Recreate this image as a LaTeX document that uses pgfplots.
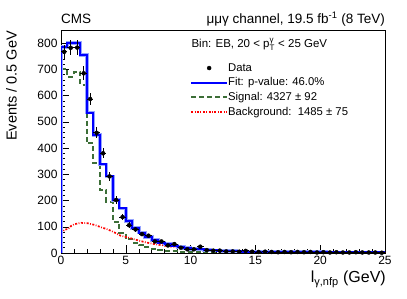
\documentclass[border=0pt]{standalone}
\usepackage{pgfplots}
\pgfplotsset{compat=1.18}
\usepackage{pgfplotstable}
\usepackage{fontspec}
\setmainfont{Liberation Sans}
\definecolor{fitblue}{RGB}{0,0,255}
\definecolor{bandblue}{RGB}{150,165,255}
\definecolor{siggreen}{RGB}{60,110,55}
\definecolor{bkgred}{RGB}{255,0,0}

\pgfplotstableread{
x y ex ey
0.25 767 0.25 27.7
0.75 782 0.25 28
1.25 783 0.25 28
1.75 685 0.25 26.2
2.25 587 0.25 24.2
2.75 458 0.25 21.4
3.25 380 0.25 19.5
3.75 292 0.25 17.1
4.25 202 0.25 14.2
4.75 137 0.25 11.7
5.25 106 0.25 10.3
5.75 90 0.25 9.5
6.25 72 0.25 8.5
6.75 66 0.25 8.1
7.25 44 0.25 6.6
7.75 44 0.25 6.6
8.25 29 0.25 5.4
8.75 34 0.25 5.8
9.25 20 0.25 4.5
9.75 14 0.25 3.7
10.25 14 0.25 3.7
10.75 24 0.25 4.9
11.25 11 0.25 3.3
11.75 9 0.25 3
12.25 9 0.25 3
12.75 6 0.25 2.4
13.25 6 0.25 2.4
13.75 5 0.25 2.2
14.25 8 0.25 2.8
14.75 5 0.25 2.2
15.25 4 0.25 2
15.75 5 0.25 2.2
16.25 4 0.25 2
16.75 3 0.25 1.7
17.25 4 0.25 2
17.75 3 0.25 1.7
18.25 4 0.25 2
18.75 3 0.25 1.7
19.25 4 0.25 2
19.75 2 0.25 1.4
20.25 3 0.25 1.7
20.75 2 0.25 1.4
21.25 3 0.25 1.7
21.75 2 0.25 1.4
22.25 2 0.25 1.4
22.75 3 0.25 1.7
23.25 2 0.25 1.4
23.75 2 0.25 1.4
24.25 2 0.25 1.4
24.75 1 0.25 1
}\datatable

\pgfplotstableread{
x y
0 0
0 786
0.5 800
1 800
1.5 755
2 535
2.5 450
3 338
3.5 292
4 203
4.5 170
5 122
5.5 96
6 78
6.5 62
7 49
7.5 40
8 34
8.5 28
9 23
9.5 19
10 16
10.5 14
11 12
11.5 10
12 9
12.5 8
13 7
13.5 6
14 5.5
14.5 5
15 4.5
15.5 4.2
16 4
16.5 3.8
17 3.6
17.5 3.4
18 3.2
18.5 3
19 2.9
19.5 2.8
20 2.7
20.5 2.6
21 2.5
21.5 2.4
22 2.3
22.5 2.2
23 2.1
23.5 2
24 2
24.5 1.9
25 1.9
}\fittable

\pgfplotstableread{
x y
0 0
0 703
0.5 672
1 690
1.5 640
2 418
2.5 342
3 240
3.5 196
4 119
4.5 78
5 52
5.5 40
6 30
6.5 22
7 15
7.5 12
8 9
8.5 7
9 5
9.5 4.5
10 4
10.5 3.5
11 3
11.5 2.5
12 2.2
12.5 2
13 1.8
13.5 1.6
14 1.4
14.5 1.2
15 1
25 1
}\sigtable

\pgfplotstableread{
x y
0 75
0.3 89
0.55 92
0.8 104
1.05 110
1.55 115
2.1 113
2.6 107
3.1 98
3.6 90
4.1 79
4.6 66
5.1 60
5.6 53
6.1 46
6.6 40
7.1 35
7.6 31
8.1 27
8.6 24
9.1 21
9.6 18
10.1 16
10.6 14
11.1 12
11.6 11
12.1 10
12.6 9
13.1 8
13.6 7
14.1 6
14.6 5.5
15.5 5
16.5 4.5
17.5 4
18.5 3.5
19.5 3.2
20.5 3
21.5 2.7
22.5 2.5
23.5 2.3
25 2
}\bkgtable

\begin{document}
\begin{tikzpicture}
\useasboundingbox (0,0) rectangle (407pt,299pt);
\begin{axis}[
  at={(61pt,46pt)}, anchor=south west,
  scale only axis, width=324pt, height=223pt,
  xmin=0, xmax=25, ymin=0, ymax=850,
  xtick={0,5,...,25}, ytick={0,100,...,800},
  minor x tick num=4, minor y tick num=4,
  tick align=inside, tick pos=left,
  major tick length=8pt, minor tick length=4pt,
  tick style={black, line width=0.5pt},
  tick label style={font=\fontsize{12}{14}\selectfont},
  /pgf/number format/assume math mode=true,
  axis line style={line width=0.6pt},
  legend image code/.code={\draw[mark repeat=2,mark phase=2,#1] plot coordinates {(0pt,0pt) (18pt,0pt) (36pt,0pt)};},
  legend cell align=left,
  legend style={at={(rel axis cs:0.398,0.855)}, anchor=north west, draw=none, fill=none,
    inner sep=0pt, row sep=3.7pt,
    font=\fontsize{11.3}{13}\selectfont,
    nodes={inner sep=0pt, text height=8.5pt, text depth=2.5pt},
    /tikz/every even column/.append style={column sep=7pt}},
]
\addlegendimage{only marks, mark=*, mark size=2pt, black}
\addlegendentry{Data}
\addlegendimage{fitblue, line width=2pt}
\addlegendentry{Fit: p-value: 46.0\%}
\addlegendimage{siggreen, line width=2pt, dash pattern=on 5pt off 3pt}
\addlegendentry{Signal: 4327 ± 92}
\addlegendimage{bkgred, line width=1.7pt, dash pattern=on 2pt off 1.5pt on 0.8pt off 1.5pt}
\addlegendentry{Background:\ \ 1485 ± 75}

\addplot[forget plot, siggreen, line width=2pt, dash pattern=on 5pt off 3pt, const plot] table {\sigtable};
\addplot[forget plot, bkgred, line width=1.7pt, dash pattern=on 2pt off 1.5pt on 0.8pt off 1.5pt, sharp plot] table {\bkgtable};
\addplot[forget plot, bandblue, line width=3.6pt, const plot] table {\fittable};
\addplot[forget plot, fitblue, line width=2pt, const plot] table {\fittable};
\addplot[forget plot, black, only marks, mark=*, mark size=2pt,
  error bars/.cd, x dir=both, x explicit, y dir=both, y explicit,
  error mark=none, error bar style={line width=0.8pt, black}]
  table[x=x, y=y, x error=ex, y error=ey] {\datatable};
\end{axis}
\node[anchor=base west, font=\fontsize{11.5}{13}\selectfont] at (188pt,251pt)
  {Bin: EB, 20 < p$^{\mbox{\fontsize{8}{9}\selectfont γ}}_{\mbox{\fontsize{8}{9}\selectfont T}}$ < 25 GeV};
\node[anchor=base west, font=\fontsize{13.5}{15}\selectfont, inner sep=0pt] at (61pt,275pt) {CMS};
\node[anchor=base east, font=\fontsize{13.5}{15}\selectfont, inner sep=0pt] at (385pt,275pt)
  {μμγ channel, 19.5 fb\textsuperscript{-1} (8 TeV)};
\node[rotate=90, anchor=base east, font=\fontsize{14.5}{16}\selectfont, inner sep=0pt] at (16.5pt,268pt) {Events / 0.5 GeV};
\node[anchor=base east, font=\fontsize{16}{18}\selectfont, inner sep=0pt] at (386pt,16pt)
  {l$_{\mbox{\fontsize{11}{12}\selectfont γ,nfp}}$ (GeV)};
\end{tikzpicture}
\end{document}
